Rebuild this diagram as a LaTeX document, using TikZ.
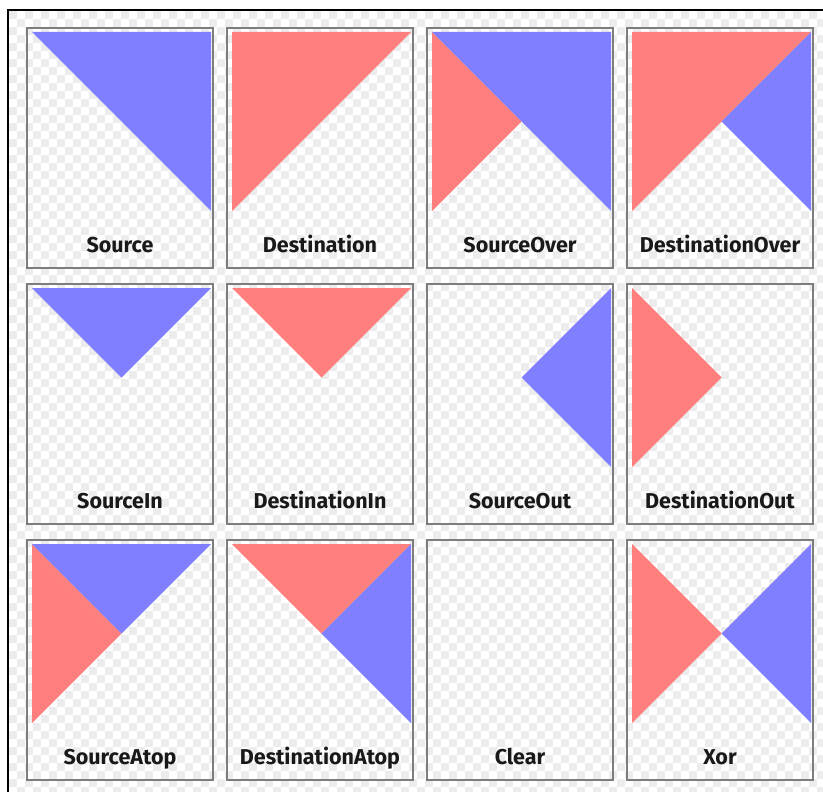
\documentclass[tikz,border=0pt]{standalone}
\usepackage{fontspec}
\setmainfont{Fira Sans}
\definecolor{srcblue}{RGB}{127,127,255}
\definecolor{dstred}{RGB}{255,127,127}
\definecolor{checkgray}{RGB}{236,236,236}
\definecolor{boxgray}{RGB}{125,125,125}
\begin{document}
\begin{tikzpicture}[x=1pt,y=-1pt,
  panelbox/.style={draw=boxgray,line width=1.6pt,minimum width=186pt,minimum height=240pt,inner sep=0pt},
  panellabel/.style={anchor=base,font=\bfseries\fontsize{21.5}{21.5}\selectfont,text=black!90,inner sep=0pt},
  src/.style={fill=srcblue},
  dst/.style={fill=dstred}]
\path[use as bounding box] (0,0) rectangle (823,792);
\fill[white] (0,0) rectangle (823,792);
\begin{scope}
\clip (9,11) rectangle (823,792);
\foreach \j in {0,...,97}{
  \pgfmathtruncatemacro\off{mod(\j,2)}
  \foreach \i in {0,2,...,100}{
    \fill[checkgray] ({9+(\i+\off)*8},{11+\j*8}) rectangle +(8,8);
  }
}
\end{scope}
\draw[black,line width=2pt] (8,792) -- (8,10) -- (823,10);
\foreach \n/\c/\r/\t in {1/0/0/Source,2/1/0/Destination,3/2/0/SourceOver,4/3/0/DestinationOver,
  5/0/1/SourceIn,6/1/1/DestinationIn,7/2/1/SourceOut,8/3/1/DestinationOut,
  9/0/2/SourceAtop,10/1/2/DestinationAtop,11/2/2/Clear,12/3/2/Xor}{
  \pgfmathsetmacro\xo{27+200*\c}
  \pgfmathsetmacro\yo{28+256*\r}
  \node[panelbox] (box\n) at ({\xo+93},{\yo+120}) {};
  \node[panellabel] (lab\n) at ({\xo+93},{\yo+224}) {\t};
  \coordinate (p\n TL) at ({\xo+5},{\yo+4});
  \coordinate (p\n TR) at ({\xo+184},{\yo+4});
  \coordinate (p\n BL) at ({\xo+5},{\yo+183});
  \coordinate (p\n BR) at ({\xo+184},{\yo+183});
  \coordinate (p\n C) at ({\xo+94.5},{\yo+93.5});
}
% Source
\fill[src] (p1TL) -- (p1TR) -- (p1BR) -- cycle;
% Destination
\fill[dst] (p2TL) -- (p2TR) -- (p2BL) -- cycle;
% SourceOver
\fill[dst] (p3TL) -- (p3C) -- (p3BL) -- cycle;
\fill[src] (p3TL) -- (p3TR) -- (p3BR) -- cycle;
% DestinationOver
\fill[dst] (p4TL) -- (p4TR) -- (p4BL) -- cycle;
\fill[src] (p4TR) -- (p4BR) -- (p4C) -- cycle;
% SourceIn
\fill[src] (p5TL) -- (p5TR) -- (p5C) -- cycle;
% DestinationIn
\fill[dst] (p6TL) -- (p6TR) -- (p6C) -- cycle;
% SourceOut
\fill[src] (p7TR) -- (p7BR) -- (p7C) -- cycle;
% DestinationOut
\fill[dst] (p8TL) -- (p8BL) -- (p8C) -- cycle;
% SourceAtop
\fill[dst] (p9TL) -- (p9C) -- (p9BL) -- cycle;
\fill[src] (p9TL) -- (p9TR) -- (p9C) -- cycle;
% DestinationAtop
\fill[dst] (p10TL) -- (p10TR) -- (p10C) -- cycle;
\fill[src] (p10TR) -- (p10BR) -- (p10C) -- cycle;
% Xor
\fill[dst] (p12TL) -- (p12C) -- (p12BL) -- cycle;
\fill[src] (p12TR) -- (p12BR) -- (p12C) -- cycle;
\end{tikzpicture}
\end{document}
